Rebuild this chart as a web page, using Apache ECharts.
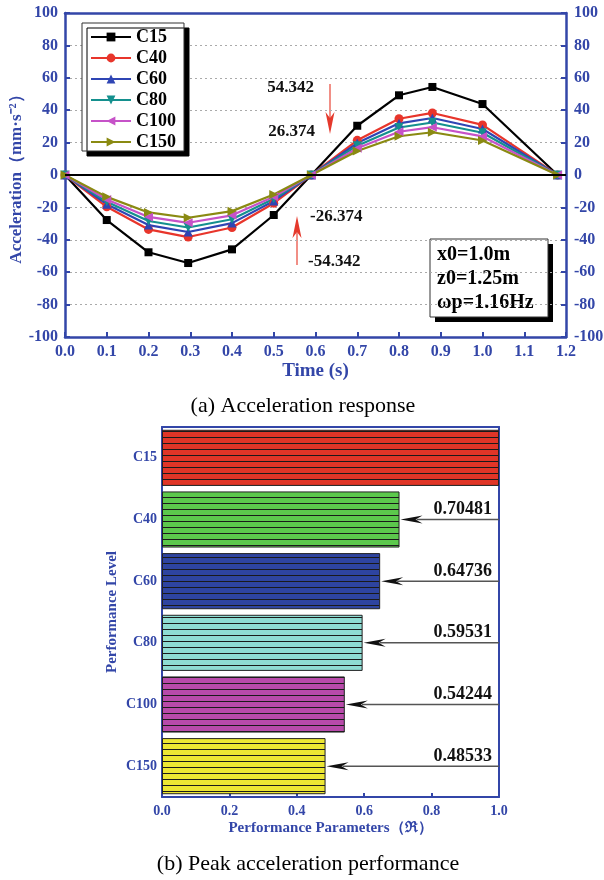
<!DOCTYPE html>
<html><head><meta charset="utf-8">
<script src="https://cdn.jsdelivr.net/npm/echarts@6/dist/echarts.min.js"></script>
<style>html,body{margin:0;padding:0;background:#fff}#c{width:604px;height:880px}</style>
</head><body><div id="c"></div>
<script>
// ---- data (a) acceleration response ----
const timeS  = [0, 0.1, 0.2, 0.295, 0.4, 0.5, 0.59, 0.7, 0.8, 0.88, 1.0, 1.18];
const accC15  = [0, -27.8, -47.7, -54.342, -45.9, -24.7, 0, 30.4, 49.2, 54.342, 43.8, 0];
const accC40  = [0, -19.6, -33.6, -38.3, -32.4, -17.4, 0, 21.4, 34.7, 38.3, 30.9, 0];
const accC60  = [0, -18.0, -30.9, -35.2, -29.7, -16.0, 0, 19.7, 31.9, 35.2, 28.4, 0];
const accC80  = [0, -16.5, -28.4, -32.4, -27.3, -14.7, 0, 18.1, 29.3, 32.4, 26.1, 0];
const accC100 = [0, -15.1, -25.9, -29.5, -24.9, -13.4, 0, 16.5, 26.7, 29.5, 23.8, 0];
const accC150 = [0, -13.5, -23.1, -26.374, -22.3, -12.0, 0, 14.8, 23.9, 26.374, 21.3, 0];
const seriesNames = ['C15', 'C40', 'C60', 'C80', 'C100', 'C150'];
// ---- data (b) peak acceleration performance ----
const levels = ['C15', 'C40', 'C60', 'C80', 'C100', 'C150'];
const perf = [1.0, 0.70481, 0.64736, 0.59531, 0.54244, 0.48533];
const perfLabels = ['', '0.70481', '0.64736', '0.59531', '0.54244', '0.48533'];

const BLUE = '#3346a8';
const SERIF = 'Liberation Serif';
const lineColors = ['#000000', '#e8352b', '#2f45b4', '#14908e', '#c652c8', '#8a8a12'];
const symbols = ['rect', 'circle', 'triangle', 'triangle', 'triangle', 'triangle'];
const symbolRots = [0, 0, 0, 180, 90, -90];
const symbolSizes = [8, 9, 9, 9, 9, 9];
const barColors = ['#e03527', '#5cc84c', '#2e44a0', '#8edcd3', '#b84aaa', '#ece633'];

function stripe(color) {
  const cv = document.createElement('canvas');
  cv.width = 8; cv.height = 6;
  const ctx = cv.getContext('2d');
  ctx.fillStyle = color; ctx.fillRect(0, 0, 8, 6);
  ctx.fillStyle = '#1a1a1a'; ctx.fillRect(0, 5, 8, 1);
  return { image: cv, repeat: 'repeat' };
}

const accAll = [accC15, accC40, accC60, accC80, accC100, accC150];
const lineSeries = seriesNames.map((n, k) => {
  const s = {
    name: n, type: 'line', xAxisIndex: 0, yAxisIndex: 0,
    data: timeS.map((t, i) => [t, accAll[k][i]]),
    symbol: symbols[k], symbolRotate: symbolRots[k], symbolSize: symbolSizes[k],
    lineStyle: { color: lineColors[k], width: 2.2 },
    itemStyle: { color: lineColors[k] },
    showAllSymbol: true, animation: false
  };
  if (k === 0) {
    s.markLine = {
      silent: true, symbol: ['none', 'none'], label: { show: false },
      lineStyle: { color: '#000', width: 2, type: 'solid' },
      data: [{ yAxis: 0 }], animation: false
    };
  }
  return s;
});

const legendText = { color: '#000', fontFamily: SERIF, fontWeight: 'bold', fontSize: 18 };
const axisLbl = (size) => ({ color: BLUE, fontFamily: SERIF, fontWeight: 'bold', fontSize: size });
const frameLine = (w) => ({ show: true, onZero: false, lineStyle: { color: BLUE, width: w } });

const chart = echarts.init(document.getElementById('c'));
chart.setOption({
  animation: false,
  backgroundColor: '#fff',
  grid: [
    { left: 65, right: 38, top: 13, bottom: 543, outerBoundsMode: 'none', containLabel: false },
    { left: 162, right: 105, top: 427, bottom: 83, outerBoundsMode: 'none', containLabel: false }
  ],
  legend: {
    data: seriesNames.map(n => ({ name: n, textStyle: legendText })),
    orient: 'vertical', left: 82, top: 23,
    itemWidth: 40, itemHeight: 11, itemGap: 3,
    padding: [5, 8, 0, 8],
    backgroundColor: '#fff', borderColor: '#333', borderWidth: 1,
    shadowColor: '#000', shadowOffsetX: 5, shadowOffsetY: 5, shadowBlur: 0.01,
    textStyle: legendText
  },
  xAxis: [
    { type: 'value', gridIndex: 0, min: 0, max: 1.2, interval: 0.1, position: 'bottom',
      axisLine: frameLine(2.5),
      axisTick: { show: true, inside: true, length: 5, lineStyle: { color: BLUE, width: 2 } },
      axisLabel: Object.assign(axisLbl(16), { margin: 7, formatter: v => v.toFixed(1) }),
      splitLine: { show: false },
      name: 'Time (s)', nameLocation: 'middle', nameGap: 25, nameMoveOverlap: false,
      nameTextStyle: axisLbl(19) },
    { type: 'value', gridIndex: 0, min: 0, max: 1.2, position: 'top',
      axisLine: frameLine(2.5),
      axisTick: { show: false }, axisLabel: { show: false }, splitLine: { show: false } },
    { type: 'value', gridIndex: 1, min: 0, max: 1, interval: 0.2, position: 'bottom',
      axisLine: frameLine(2),
      axisTick: { show: true, inside: true, length: 4, lineStyle: { color: BLUE, width: 2 } },
      axisLabel: Object.assign(axisLbl(14), { margin: 7, formatter: v => v.toFixed(1) }),
      splitLine: { show: false },
      name: 'Performance Parameters（ℜ）', nameLocation: 'middle', nameGap: 24, nameMoveOverlap: false,
      nameTextStyle: axisLbl(15) },
    { type: 'value', gridIndex: 1, min: 0, max: 1, position: 'top',
      axisLine: frameLine(2),
      axisTick: { show: false }, axisLabel: { show: false }, splitLine: { show: false } }
  ],
  yAxis: [
    { type: 'value', gridIndex: 0, min: -100, max: 100, interval: 20, position: 'left',
      axisLine: frameLine(2.5),
      axisTick: { show: true, inside: true, length: 5, lineStyle: { color: BLUE, width: 2 } },
      axisLabel: Object.assign(axisLbl(16), { margin: 7 }),
      splitLine: { show: true, lineStyle: { color: '#aaa', width: 1, type: [2, 3] } },
      name: 'Acceleration（mm·s⁻²）', nameLocation: 'middle', nameGap: 40, nameMoveOverlap: false,
      nameTextStyle: axisLbl(17) },
    { type: 'value', gridIndex: 0, min: -100, max: 100, interval: 20, position: 'right',
      axisLine: frameLine(2.5),
      axisTick: { show: true, inside: true, length: 5, lineStyle: { color: BLUE, width: 2 } },
      axisLabel: Object.assign(axisLbl(16), { margin: 8 }),
      splitLine: { show: false } },
    { type: 'category', gridIndex: 1, data: levels, inverse: true, position: 'left',
      axisLine: frameLine(2),
      axisTick: { show: true, inside: true, alignWithLabel: true, length: 5, lineStyle: { color: BLUE, width: 2 } },
      axisLabel: Object.assign(axisLbl(14), { margin: 5 }),
      name: 'Performance Level', nameLocation: 'middle', nameGap: 42, nameMoveOverlap: false,
      nameTextStyle: axisLbl(15) },
    { type: 'category', gridIndex: 1, data: levels, inverse: true, position: 'right',
      axisLine: frameLine(2),
      axisTick: { show: false }, axisLabel: { show: false } }
  ],
  series: lineSeries.concat([
    { name: 'perf', type: 'bar', xAxisIndex: 2, yAxisIndex: 2,
      barCategoryGap: '9%',
      data: perf.map((v, i) => ({ value: v, itemStyle: { color: stripe(barColors[i]) } })),
      itemStyle: { borderColor: '#222', borderWidth: 1 },
      silent: true },
    { name: 'arrows', type: 'custom', xAxisIndex: 2, yAxisIndex: 2,
      data: perf.map((v, i) => [v, i]).slice(1),
      renderItem: function (params, api) {
        const v = api.value(0), c = api.value(1);
        const s = api.coord([1, c]);
        const e = api.coord([v, c]);
        const y = s[1];
        const tip = e[0] + 1;
        return { type: 'group', children: [
          { type: 'line', shape: { x1: s[0], y1: y, x2: tip + 16, y2: y },
            style: { stroke: '#555', lineWidth: 1.5 } },
          { type: 'polygon', shape: { points: [[tip, y], [tip + 22, y - 4], [tip + 15, y], [tip + 22, y + 4]] },
            style: { fill: '#111' } },
          { type: 'text', x: s[0] - 7, y: y - 10,
            style: { text: perfLabels[params.dataIndex + 1], fill: '#111', align: 'right', verticalAlign: 'middle',
                     font: 'bold 18px ' + SERIF } }
        ] };
      },
      silent: true }
  ]),
  graphic: [
    // annotations (a)
    { type: 'text', x: 314, y: 88, style: { text: '54.342', align: 'right', verticalAlign: 'middle', fill: '#111', font: 'bold 17px ' + SERIF } },
    { type: 'text', x: 315, y: 132, style: { text: '26.374', align: 'right', verticalAlign: 'middle', fill: '#111', font: 'bold 17px ' + SERIF } },
    { type: 'text', x: 310, y: 217, style: { text: '-26.374', align: 'left', verticalAlign: 'middle', fill: '#111', font: 'bold 17px ' + SERIF } },
    { type: 'text', x: 308, y: 262, style: { text: '-54.342', align: 'left', verticalAlign: 'middle', fill: '#111', font: 'bold 17px ' + SERIF } },
    { type: 'line', shape: { x1: 330, y1: 84, x2: 330, y2: 118 }, style: { stroke: '#ec6a5e', lineWidth: 1.5 } },
    { type: 'polygon', shape: { points: [[330, 134], [325.5, 112], [330, 118], [334.5, 112]] }, style: { fill: '#e5392c' } },
    { type: 'line', shape: { x1: 297, y1: 232, x2: 297, y2: 265 }, style: { stroke: '#ec6a5e', lineWidth: 1.5 } },
    { type: 'polygon', shape: { points: [[297, 216], [292.5, 238], [297, 232], [301.5, 238]] }, style: { fill: '#e5392c' } },
    // info box
    { type: 'rect', shape: { x: 435, y: 244, width: 118, height: 78 }, style: { fill: '#000' } },
    { type: 'rect', shape: { x: 430, y: 239, width: 118, height: 78 }, style: { fill: '#fff', stroke: '#333', lineWidth: 1 } },
    { type: 'text', x: 437, y: 255, style: { text: 'x0=1.0m', verticalAlign: 'middle', fill: '#000', font: 'bold 20px ' + SERIF } },
    { type: 'text', x: 437, y: 279, style: { text: 'z0=1.25m', verticalAlign: 'middle', fill: '#000', font: 'bold 20px ' + SERIF } },
    { type: 'text', x: 437, y: 303, style: { text: 'ωp=1.16Hz', verticalAlign: 'middle', fill: '#000', font: 'bold 20px ' + SERIF } },
    // captions
    { type: 'text', x: 303, y: 406, style: { text: '(a) Acceleration response', align: 'center', verticalAlign: 'middle', fill: '#000', font: '22px ' + SERIF } },
    { type: 'text', x: 308, y: 864, style: { text: '(b) Peak acceleration performance', align: 'center', verticalAlign: 'middle', fill: '#000', font: '22px ' + SERIF } }
  ]
});
</script>
</body></html>
